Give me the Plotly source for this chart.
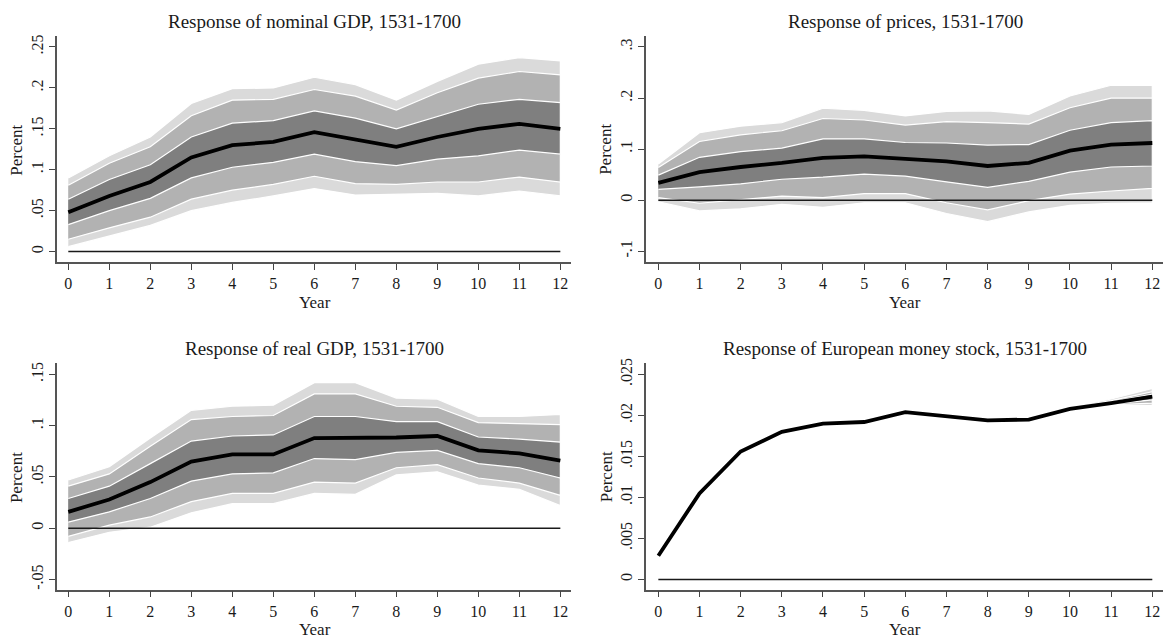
import plotly.graph_objects as go

years = list(range(13))

# ---- Panel 1: nominal GDP ----
ngdp_mid = [0.048, 0.068, 0.085, 0.115, 0.130, 0.134, 0.146, 0.137, 0.128, 0.140, 0.150, 0.156, 0.150]
ngdp_outer_hi = [0.090, 0.117, 0.140, 0.181, 0.199, 0.200, 0.213, 0.204, 0.185, 0.208, 0.229, 0.237, 0.233]
ngdp_middle_hi = [0.081, 0.108, 0.128, 0.166, 0.185, 0.186, 0.198, 0.190, 0.173, 0.194, 0.212, 0.220, 0.216]
ngdp_inner_hi = [0.064, 0.088, 0.106, 0.140, 0.157, 0.160, 0.172, 0.163, 0.150, 0.165, 0.180, 0.186, 0.182]
ngdp_inner_lo = [0.033, 0.050, 0.065, 0.090, 0.103, 0.109, 0.119, 0.110, 0.105, 0.113, 0.117, 0.124, 0.119]
ngdp_middle_lo = [0.015, 0.029, 0.042, 0.064, 0.075, 0.082, 0.092, 0.083, 0.082, 0.085, 0.085, 0.091, 0.085]
ngdp_outer_lo = [0.006, 0.019, 0.032, 0.050, 0.060, 0.068, 0.077, 0.069, 0.070, 0.071, 0.068, 0.074, 0.068]

# ---- Panel 2: prices ----
pr_mid = [0.034, 0.055, 0.065, 0.073, 0.083, 0.086, 0.081, 0.076, 0.067, 0.073, 0.097, 0.109, 0.112]
pr_outer_hi = [0.071, 0.132, 0.145, 0.152, 0.180, 0.176, 0.165, 0.174, 0.175, 0.168, 0.204, 0.225, 0.225]
pr_middle_hi = [0.064, 0.115, 0.128, 0.136, 0.160, 0.157, 0.147, 0.154, 0.152, 0.149, 0.181, 0.200, 0.200]
pr_inner_hi = [0.049, 0.084, 0.095, 0.102, 0.120, 0.120, 0.113, 0.112, 0.108, 0.109, 0.137, 0.152, 0.156]
pr_inner_lo = [0.021, 0.026, 0.032, 0.041, 0.045, 0.051, 0.047, 0.036, 0.025, 0.037, 0.055, 0.065, 0.067]
pr_middle_lo = [0.005, -0.006, 0.001, 0.008, 0.005, 0.013, 0.013, -0.005, -0.019, -0.001, 0.012, 0.018, 0.023]
pr_outer_lo = [-0.003, -0.021, -0.017, -0.008, -0.014, -0.005, -0.005, -0.026, -0.042, -0.023, -0.010, -0.006, -0.005]

# ---- Panel 3: real GDP ----
rgdp_mid = [0.016, 0.028, 0.045, 0.065, 0.072, 0.072, 0.088, 0.088, 0.0885, 0.090, 0.076, 0.073, 0.066]
rgdp_outer_hi = [0.047, 0.060, 0.088, 0.115, 0.119, 0.120, 0.142, 0.142, 0.127, 0.126, 0.109, 0.109, 0.111]
rgdp_middle_hi = [0.041, 0.053, 0.080, 0.106, 0.109, 0.110, 0.131, 0.131, 0.119, 0.118, 0.103, 0.102, 0.101]
rgdp_inner_hi = [0.029, 0.041, 0.063, 0.085, 0.090, 0.091, 0.109, 0.109, 0.104, 0.104, 0.089, 0.087, 0.084]
rgdp_inner_lo = [0.006, 0.016, 0.029, 0.046, 0.053, 0.054, 0.068, 0.067, 0.074, 0.076, 0.063, 0.059, 0.049]
rgdp_middle_lo = [-0.008, 0.003, 0.011, 0.026, 0.034, 0.034, 0.045, 0.044, 0.059, 0.062, 0.049, 0.044, 0.032]
rgdp_outer_lo = [-0.014, -0.004, 0.001, 0.015, 0.024, 0.024, 0.034, 0.033, 0.052, 0.055, 0.042, 0.038, 0.022]

# ---- Panel 4: European money stock ----
ms_mid = [0.0029, 0.0105, 0.0156, 0.0180, 0.0190, 0.0192, 0.0204, 0.0199, 0.0194, 0.0195, 0.0208, 0.0215, 0.0223]
ms_outer_hi = [0.0030, 0.0106, 0.0157, 0.0181, 0.0191, 0.0194, 0.0206, 0.0201, 0.0197, 0.0197, 0.0210, 0.0220, 0.0233]
ms_middle_hi = [0.0030, 0.0106, 0.0157, 0.0181, 0.0191, 0.0193, 0.0205, 0.0200, 0.0196, 0.0196, 0.0209, 0.0218, 0.0229]
ms_inner_hi = [0.0029, 0.0105, 0.0156, 0.0180, 0.0190, 0.0193, 0.0205, 0.0200, 0.0195, 0.0196, 0.0209, 0.0217, 0.0226]
ms_inner_lo = [0.0029, 0.0105, 0.0156, 0.0180, 0.0190, 0.0191, 0.0203, 0.0198, 0.0193, 0.0194, 0.0207, 0.0214, 0.0219]
ms_middle_lo = [0.0028, 0.0104, 0.0155, 0.0179, 0.0189, 0.0190, 0.0203, 0.0198, 0.0192, 0.0194, 0.0207, 0.0213, 0.0215]
ms_outer_lo = [0.0028, 0.0104, 0.0155, 0.0179, 0.0189, 0.0189, 0.0202, 0.0197, 0.0191, 0.0193, 0.0206, 0.0212, 0.0212]

titles = ["Response of nominal GDP, 1531-1700", "Response of prices, 1531-1700",
          "Response of real GDP, 1531-1700", "Response of European money stock, 1531-1700"]

ytick_vals = [
    [0, 0.05, 0.1, 0.15, 0.2, 0.25],
    [-0.1, 0, 0.1, 0.2, 0.3],
    [-0.05, 0, 0.05, 0.1, 0.15],
    [0, 0.005, 0.01, 0.015, 0.02, 0.025],
]
ytick_text = [
    ["0", ".05", ".1", ".15", ".2", ".25"],
    ["-.1", "0", ".1", ".2", ".3"],
    ["-.05", "0", ".05", ".1", ".15"],
    ["0", ".005", ".01", ".015", ".02", ".025"],
]

panels = [
    (ngdp_mid, ngdp_outer_hi, ngdp_middle_hi, ngdp_inner_hi, ngdp_inner_lo, ngdp_middle_lo, ngdp_outer_lo),
    (pr_mid, pr_outer_hi, pr_middle_hi, pr_inner_hi, pr_inner_lo, pr_middle_lo, pr_outer_lo),
    (rgdp_mid, rgdp_outer_hi, rgdp_middle_hi, rgdp_inner_hi, rgdp_inner_lo, rgdp_middle_lo, rgdp_outer_lo),
    (ms_mid, ms_outer_hi, ms_middle_hi, ms_inner_hi, ms_inner_lo, ms_middle_lo, ms_outer_lo),
]

W, H = 1166, 644
FONT = "Liberation Serif"
LIGHT, MEDIUM, DARK = "#dadada", "#b2b2b2", "#7f7f7f"

# pixel geometry of the four plot areas: (left, right, top, bottom)
boxes = [(56.7, 571, 31, 259.3), (645.7, 1163, 31, 259.3),
         (56.7, 571, 361, 589.3), (645.7, 1163, 361, 589.3)]
yranges = [[-0.0131, 0.2637], [-0.1216, 0.322], [-0.060, 0.161], [-0.00125, 0.02637]]
xranges = [[-0.283, 12.26], [-0.307, 12.26], [-0.283, 12.26], [-0.307, 12.26]]

fig = go.Figure()

for i, (mid, ohi, mhi, ihi, ilo, mlo, olo) in enumerate(panels):
    xa = "x" if i == 0 else f"x{i+1}"
    ya = "y" if i == 0 else f"y{i+1}"
    for hi, lo, col in [(ohi, olo, LIGHT), (mhi, mlo, MEDIUM), (ihi, ilo, DARK)]:
        fig.add_trace(go.Scatter(
            x=years + years[::-1], y=hi + lo[::-1], fill="toself", fillcolor=col,
            mode="lines", line=dict(color="white", width=1.2),
            xaxis=xa, yaxis=ya, showlegend=False, hoverinfo="skip"))
    fig.add_trace(go.Scatter(x=[years[0], years[-1]], y=[0, 0], mode="lines",
                             line=dict(color="#1a1a1a", width=1.6),
                             xaxis=xa, yaxis=ya, showlegend=False, hoverinfo="skip"))
    fig.add_trace(go.Scatter(x=years, y=mid, mode="lines",
                             line=dict(color="black", width=3.8),
                             xaxis=xa, yaxis=ya, showlegend=False))

layout = dict(width=W, height=H, margin=dict(l=0, r=0, t=0, b=0),
              paper_bgcolor="white", plot_bgcolor="white",
              font=dict(family=FONT, color="#1a1a1a", size=16))

annotations = []
for i, (l, r, t, b) in enumerate(boxes):
    key = "" if i == 0 else str(i + 1)
    layout["xaxis" + key] = dict(
        domain=[l / W, r / W], range=xranges[i], anchor="y" + key,
        tickmode="array", tickvals=years, ticktext=[str(v) for v in years],
        ticks="outside", ticklen=6, tickwidth=1.3, tickcolor="#444",
        showline=True, linecolor="#555", linewidth=1.5, showgrid=False, zeroline=False,
        tickfont=dict(family=FONT, size=16, color="#1a1a1a"))
    layout["yaxis" + key] = dict(
        domain=[1 - b / H, 1 - t / H], range=yranges[i], anchor="x" + key,
        tickmode="array", tickvals=ytick_vals[i], ticktext=ytick_text[i],
        tickangle=-90, ticks="outside", ticklen=6, tickwidth=1.3, tickcolor="#444",
        showline=True, linecolor="#555", linewidth=1.5, showgrid=False, zeroline=False,
        tickfont=dict(family=FONT, size=16, color="#1a1a1a"))
    cx = (l + r) / 2
    annotations.append(dict(text=titles[i], x=(cx + 1) / W, y=1 - (t - 14.5) / H,
                            xref="paper", yref="paper", xanchor="center", yanchor="middle",
                            showarrow=False, font=dict(family=FONT, size=19, color="#1a1a1a")))
    annotations.append(dict(text="Year", x=(cx + 1) / W, y=1 - (b + 40.5) / H,
                            xref="paper", yref="paper", xanchor="center", yanchor="middle",
                            showarrow=False, font=dict(family=FONT, size=17, color="#1a1a1a")))
    px = 16.8 if i % 2 == 0 else 606
    annotations.append(dict(text="Percent", x=px / W, y=1 - (t + 115) / H,
                            xref="paper", yref="paper", xanchor="center", yanchor="middle",
                            textangle=-90, showarrow=False,
                            font=dict(family=FONT, size=17, color="#1a1a1a")))

layout["annotations"] = annotations
fig.update_layout(**layout)
fig.write_html("out.html")
